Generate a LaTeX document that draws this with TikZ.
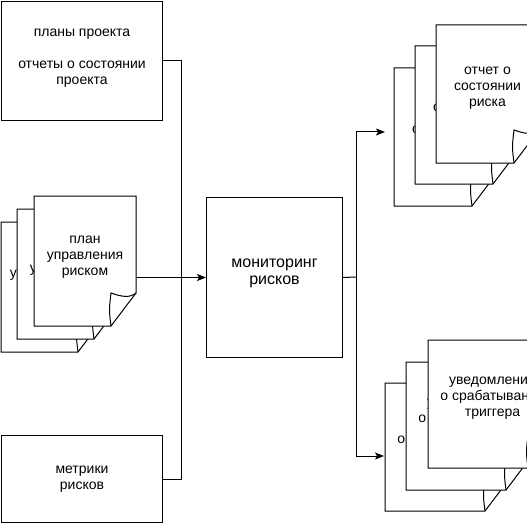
\documentclass[tikz,border=0pt]{standalone}
\usepackage{fontspec}
\setmainfont{Liberation Sans}
\usetikzlibrary{arrows.meta}
\tikzset{
  every picture/.style={x=1pt,y=-1pt},
  ln/.style={line width=1pt,draw=black},
  box/.style={ln,rectangle,inner sep=0pt,align=center,fill=white,font=\fontsize{14}{16}\selectfont},
  docshape/.style={ln,fill=white,line join=miter},
  doctext/.style={align=center,inner sep=0pt,font=\fontsize{14}{16}\selectfont},
  arr/.style={ln,-{Stealth[length=9pt,width=7pt,inset=2pt]}},
}
% #1 name, #2 left, #3 top, #4 width, #5 height, #6 text, #7 extra text shift x, #8 text shift y (up)
\newcommand\docpage[8]{%
  \path[docshape] (#2,#3) -- (#2+#4,#3) -- (#2+#4,#3+#5-33) -- (#2+#4-25,#3+#5) -- (#2,#3+#5) -- cycle;
  \draw[ln] (#2+#4-25,#3+#5) .. controls (#2+#4-27,#3+#5-16) .. (#2+#4-25,#3+#5-33)
    .. controls (#2+#4-14,#3+#5-29) and (#2+#4-6,#3+#5-28) .. (#2+#4,#3+#5-33);
  \node[inner sep=0pt,minimum width=#4pt,minimum height=#5pt] (#1) at (#2+#4/2,#3+#5/2) {};
  \node[doctext] (#1t) at ([xshift=#7pt,yshift=#8pt]#1.center) {#6};
}
\begin{document}
\begin{tikzpicture}
\useasboundingbox (0,0) rectangle (527,524);
\clip (0,0) rectangle (527,524);
% input boxes
\node[box,minimum width=161pt,minimum height=119pt,anchor=north west] (plans) at (1,1) {};
\node[doctext] (planst) at ([yshift=3pt]plans.center) {планы проекта\\[16pt]отчеты о состоянии\\проекта};
\node[box,minimum width=161pt,minimum height=87pt,anchor=north west] (metr) at (1,435) {метрики\\рисков};
% monitoring
\node[box,minimum width=136pt,minimum height=160pt,anchor=north west] (mon) at (206,197) {};
\node[align=center,inner sep=0pt,font=\fontsize{16}{17}\selectfont] (mont) at ([yshift=4pt]mon.center) {мониторинг\\рисков};
% left documents
\docpage{pl3}{1}{222}{102}{130}{план\\управления\\риском}{-4}{12}
\docpage{pl2}{17}{209}{102}{130}{план\\управления\\риском}{0}{4}
\docpage{pl1}{34}{196}{102}{130}{план\\управления\\риском}{0}{4}
% right top documents
\docpage{rp3}{394}{68}{103}{138}{отчет о\\состоянии\\риска}{0}{6}
\docpage{rp2}{415}{46}{103}{138}{отчет о\\состоянии\\риска}{0}{6}
\docpage{rp1}{436}{25}{103}{138}{отчет о\\состоянии\\риска}{0}{6}
% right bottom documents
\docpage{tn3}{385}{383}{125}{128}{уведомление\\о срабатывании\\триггера}{2}{6}
\docpage{tn2}{406}{362}{125}{128}{уведомление\\о срабатывании\\триггера}{2}{6}
\docpage{tn1}{428}{340}{125}{128}{уведомление\\о срабатывании\\триггера}{2}{6}
% connectors
\coordinate (jL) at (181,277);
\coordinate (jR) at (356,277);
\coordinate (aTop) at (385,132);
\coordinate (aBot) at (384,456);
\draw[ln] (plans.east) -| (jL);
\draw[ln] (metr.east) -| (jL);
\draw[arr] (pl1.east |- mon.west) -- (mon.west);
\draw[ln] (mon.east) -- (jR);
\draw[arr] (jR) |- (aTop);
\draw[arr] (jR) |- (aBot);
\end{tikzpicture}
\end{document}
